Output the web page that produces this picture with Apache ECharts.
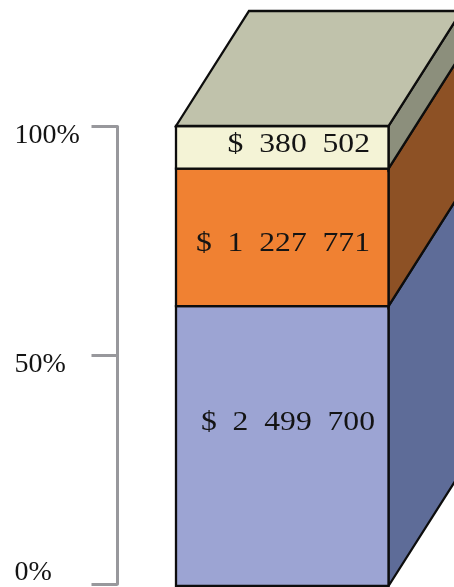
<!DOCTYPE html>
<html>
<head>
<meta charset="utf-8">
<style>html,body{margin:0;padding:0;background:#fff}#c{width:454px;height:587px}</style>
<script src="https://cdn.jsdelivr.net/npm/echarts@6/dist/echarts.min.js"></script>
</head>
<body>
<div id="c"></div>
<script>
const categories = ['Total'];
const segmentValues = [2499700, 1227771, 380502];
const percentTicks = [0, 50, 100];
const total = segmentValues.reduce((a, b) => a + b, 0);

const frontColors = ['#9ca4d3', '#f08132', '#f4f3d6'];
const sideColors = ['#5e6c98', '#8d5125', '#8c8f7c'];
const topColor = '#c0c2ab';
const labelRight = [375, 370, 370];
const labelShift = [-23, 6, -3];
const depthX = 73, depthY = -115;
const FONT = '"Liberation Serif", serif';

let acc = 0;
const rows = segmentValues.map((v, i) => {
  const r = [0, acc, acc + v, v, i];
  acc += v;
  return r;
});
const fmt = v => '$  ' + String(v).replace(/\B(?=(\d{3})+$)/g, '  ');
const edge = { stroke: '#0d0d0d', lineWidth: 2.3, lineJoin: 'miter' };

function renderItem(params, api) {
  const i = api.value(4);
  const w = api.size([1, 0])[0];
  const cx = api.coord([0, 0])[0];
  const x0 = cx - w / 2, x1 = cx + w / 2;
  const yB = api.coord([0, api.value(1)])[1];
  const yT = api.coord([0, api.value(2)])[1];
  const poly = (points, fill) => ({
    type: 'polygon', shape: { points }, style: Object.assign({ fill }, edge)
  });
  const children = [
    poly([[x1, yB], [x1 + depthX, yB + depthY], [x1 + depthX, yT + depthY], [x1, yT]], sideColors[i]),
    poly([[x0, yB], [x1, yB], [x1, yT], [x0, yT]], frontColors[i])
  ];
  if (i === segmentValues.length - 1) {
    children.push(poly([[x0, yT], [x1, yT], [x1 + depthX, yT + depthY], [x0 + depthX, yT + depthY]], topColor));
  }
  children.push({
    type: 'text',
    x: labelRight[i], y: (yB + yT) / 2 + labelShift[i], scaleX: 1.13,
    style: {
      x: 0, y: 0,
      text: fmt(api.value(3)),
      align: 'right', verticalAlign: 'middle',
      font: '28px ' + FONT, fill: '#141414'
    }
  });
  return { type: 'group', children };
}

const chart = echarts.init(document.getElementById('c'), null, { renderer: 'canvas', width: 454, height: 587 });
chart.setOption({
  animation: false,
  backgroundColor: '#ffffff',
  grid: [
    { left: 117.5, width: 10, top: 126.5, height: 458 },
    { left: 176, width: 212.5, top: 126, height: 460 }
  ],
  xAxis: [
    { gridIndex: 0, type: 'category', data: categories, show: false },
    { gridIndex: 1, type: 'category', data: categories, show: false }
  ],
  yAxis: [
    {
      gridIndex: 0, type: 'value', min: 0, max: 100, interval: 50,
      splitLine: { show: false },
      axisLine: { show: true, lineStyle: { color: '#98989c', width: 3 } },
      axisTick: { show: true, length: 26, lineStyle: { color: '#98989c', width: 3 } },
      axisLabel: {
        show: true, align: 'left', margin: 103, verticalAlign: 'top',
        verticalAlignMinLabel: 'bottom', verticalAlignMaxLabel: 'top',
        lineHeight: 18, padding: [0, 0, 2, 0],
        formatter: v => percentTicks.includes(v) ? v + '%' : '',
        fontFamily: FONT, fontSize: 28, color: '#141414'
      }
    },
    { gridIndex: 1, type: 'value', min: 0, max: total, show: false, splitLine: { show: false } }
  ],
  series: [{
    type: 'custom', xAxisIndex: 1, yAxisIndex: 1, coordinateSystem: 'cartesian2d',
    clip: false, silent: true, renderItem, data: rows,
    encode: { x: 0, y: [1, 2] }
  }]
});
</script>
</body>
</html>
